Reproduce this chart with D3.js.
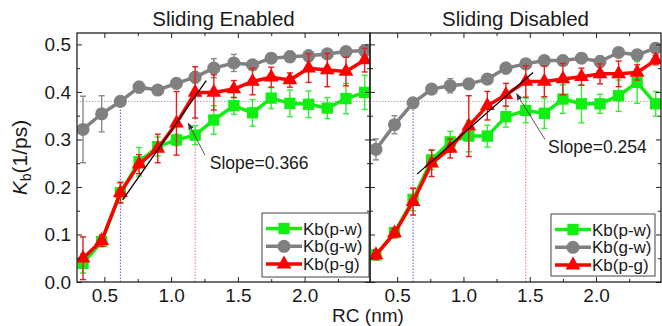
<!DOCTYPE html>
<html>
<head>
<meta charset="utf-8">
<script src="https://cdn.jsdelivr.net/npm/d3@7"></script>
<style>
  body { margin: 0; background: #fff; }
  svg text { font-family: "Liberation Sans", Arial, sans-serif; fill: #1a1a1a; }
</style>
</head>
<body>
<div id="chart"></div>
<script>
// reaction coordinate (nm), shared by both panels
const rc = [0.34, 0.48, 0.62, 0.76, 0.90, 1.04, 1.18, 1.32, 1.47, 1.61, 1.75, 1.89, 2.03, 2.17, 2.31, 2.45];

// Sliding Enabled
const enPW = [0.039, 0.085, 0.188, 0.253, 0.285, 0.299, 0.309, 0.341, 0.371, 0.356, 0.387, 0.376, 0.374, 0.366, 0.386, 0.399];
const enPWErr = [0.02, 0.01, 0.02, 0.03, 0.02, 0.012, 0.02, 0.03, 0.018, 0.028, 0.022, 0.028, 0.028, 0.022, 0.032, 0.036];
const enGW = [0.321, 0.354, 0.380, 0.410, 0.404, 0.418, 0.431, 0.450, 0.461, 0.457, 0.471, 0.474, 0.476, 0.480, 0.485, 0.487];
const enGWErr = [0.07, 0.038, 0.008, 0.012, 0.008, 0.008, 0.012, 0.02, 0.018, 0.008, 0.01, 0.012, 0.012, 0.01, 0.008, 0.012];
const enPG = [0.050, 0.087, 0.188, 0.248, 0.281, 0.334, 0.399, 0.399, 0.406, 0.422, 0.431, 0.425, 0.450, 0.446, 0.443, 0.467];
const enPGErr = [0.045, 0.012, 0.022, 0.02, 0.03, 0.067, 0.054, 0.037, 0.018, 0.028, 0.021, 0.015, 0.03, 0.035, 0.03, 0.025];

// Sliding Disabled
const disPW = [0.057, 0.104, 0.174, 0.257, 0.295, 0.307, 0.307, 0.348, 0.361, 0.355, 0.385, 0.375, 0.375, 0.392, 0.420, 0.375];
const disPWErr = [0.01, 0.01, 0.024, 0.02, 0.022, 0.033, 0.023, 0.022, 0.026, 0.032, 0.03, 0.04, 0.02, 0.033, 0.044, 0.026];
const disGW = [0.279, 0.331, 0.377, 0.406, 0.413, 0.417, 0.427, 0.450, 0.459, 0.466, 0.466, 0.471, 0.464, 0.483, 0.478, 0.492];
const disGWErr = [0.022, 0.019, 0.005, 0.008, 0.015, 0.008, 0.01, 0.012, 0.01, 0.01, 0.008, 0.01, 0.012, 0.01, 0.008, 0.011];
const disPG = [0.057, 0.103, 0.169, 0.250, 0.281, 0.328, 0.371, 0.394, 0.422, 0.422, 0.427, 0.432, 0.438, 0.438, 0.441, 0.467];
const disPGErr = [0.01, 0.01, 0.028, 0.028, 0.02, 0.064, 0.03, 0.024, 0.033, 0.032, 0.033, 0.018, 0.021, 0.027, 0.016, 0.01];

const seriesNames = ["Kb(p-w)", "Kb(g-w)", "Kb(p-g)"];
const seriesColors = ["#11ee11", "#808080", "#ff0000"];
const errColors = ["#33ee33", "#8a8a8a", "#e81c1c"];

const xTicks = [0.5, 1.0, 1.5, 2.0];
const yTicks = [0.0, 0.1, 0.2, 0.3, 0.4, 0.5];

// guide values
const plateauK = 0.38;
const onsetRC = 0.62;
const enEndRC = 1.18, disEndRC = 1.47;
const enSlope = [[0.637, 0.173], [1.263, 0.424]];
const disSlope = [[0.65, 0.227], [1.525, 0.441]];
const enArrow = [[1.254, 0.267], [1.129, 0.334]];
const disArrow = [[1.615, 0.300], [1.401, 0.396]];
const enLabel = ["Slope=0.366", 1.29, 0.238];
const disLabel = ["Slope=0.254", 1.638, 0.272];

////////////////////////////////////////////////////////////////////////////////////

const width = 662, height = 326;
const plotTop = 33, plotBottom = 282;

const svg = d3.select("#chart").append("svg")
  .attr("width", width).attr("height", height)
  .style("display", "block");

svg.append("rect").attr("width", width).attr("height", height).attr("fill", "#fff");

const defs = svg.append("defs");
defs.append("marker")
  .attr("id", "arrow")
  .attr("viewBox", "0 0 10 10")
  .attr("refX", 9).attr("refY", 5)
  .attr("markerWidth", 7).attr("markerHeight", 7)
  .attr("markerUnits", "userSpaceOnUse")
  .attr("orient", "auto")
  .append("path").attr("d", "M0,1 L10,5 L0,9 Z").attr("fill", "#333");

const panels = [
  { title: "Sliding Enabled", left: 77, right: 370, series: [[enPW, enPWErr], [enGW, enGWErr], [enPG, enPGErr]],
    endRC: enEndRC, endK: enPG[6], slope: enSlope, arrow: enArrow, label: enLabel, legend: [262, 213, 107, 64], labels: true },
  { title: "Sliding Disabled", left: 370, right: 661, series: [[disPW, disPWErr], [disGW, disGWErr], [disPG, disPGErr]],
    endRC: disEndRC, endK: disPG[8], slope: disSlope, arrow: disArrow, label: disLabel, legend: [551, 214, 104, 62], labels: false }
];

const y = d3.scaleLinear().domain([0, 0.524]).range([plotBottom, plotTop]);

function symbolFor(i) {
  if (i === 0) return d3.symbol().type(d3.symbolSquare).size(128)();
  if (i === 1) return d3.symbol().type(d3.symbolCircle).size(135)();
  return d3.symbol().type(d3.symbolTriangle).size(95)();
}

panels.forEach((p, pi) => {
  const x = d3.scaleLinear().domain([0.295, 2.49]).range([p.left, p.right]);
  const g = svg.append("g");

  const clipId = "clip" + pi;
  defs.append("clipPath").attr("id", clipId)
    .append("rect").attr("x", p.left).attr("y", plotTop).attr("width", p.right - p.left).attr("height", plotBottom - plotTop);

  const plot = g.append("g").attr("clip-path", `url(#${clipId})`);

  // dotted guides
  plot.append("line")
    .attr("x1", p.left).attr("x2", p.right)
    .attr("y1", y(plateauK)).attr("y2", y(plateauK))
    .attr("stroke", "#aaa").attr("stroke-width", 1).attr("stroke-dasharray", "1.5,1.5");
  plot.append("line")
    .attr("x1", x(onsetRC)).attr("x2", x(onsetRC))
    .attr("y1", y(0)).attr("y2", y(plateauK))
    .attr("stroke", "#5555ee").attr("stroke-width", 1).attr("stroke-dasharray", "1.5,1.5");
  plot.append("line")
    .attr("x1", x(p.endRC)).attr("x2", x(p.endRC))
    .attr("y1", y(0)).attr("y2", y(p.endK))
    .attr("stroke", "#ff6666").attr("stroke-width", 1).attr("stroke-dasharray", "1.5,1.5");

  // series
  p.series.forEach(([vals, errs], si) => {
    const pts = rc.map((r, i) => ({ x: r, y: vals[i], e: errs[i] }));
    const sg = plot.append("g");

    const eb = sg.selectAll("g.eb").data(pts).enter().append("g")
      .attr("stroke", errColors[si]).attr("stroke-width", 1.4);
    eb.append("line")
      .attr("x1", d => x(d.x)).attr("x2", d => x(d.x))
      .attr("y1", d => y(d.y - d.e)).attr("y2", d => y(d.y + d.e));
    eb.append("line")
      .attr("x1", d => x(d.x) - 3).attr("x2", d => x(d.x) + 3)
      .attr("y1", d => y(d.y + d.e)).attr("y2", d => y(d.y + d.e));
    eb.append("line")
      .attr("x1", d => x(d.x) - 3).attr("x2", d => x(d.x) + 3)
      .attr("y1", d => y(d.y - d.e)).attr("y2", d => y(d.y - d.e));

    sg.append("path")
      .datum(pts)
      .attr("fill", "none")
      .attr("stroke", seriesColors[si])
      .attr("stroke-width", 3.5)
      .attr("stroke-linejoin", "round")
      .attr("d", d3.line().x(d => x(d.x)).y(d => y(d.y)));

    sg.selectAll("path.mk").data(pts).enter().append("path")
      .attr("class", "mk")
      .attr("transform", d => `translate(${x(d.x)},${y(d.y)})`)
      .attr("d", symbolFor(si))
      .attr("fill", seriesColors[si]);
  });

  // slope fit line
  plot.append("line")
    .attr("x1", x(p.slope[0][0])).attr("y1", y(p.slope[0][1]))
    .attr("x2", x(p.slope[1][0])).attr("y2", y(p.slope[1][1]))
    .attr("stroke", "#000").attr("stroke-width", 1.3);

  // annotation
  g.append("line")
    .attr("x1", x(p.arrow[0][0])).attr("y1", y(p.arrow[0][1]))
    .attr("x2", x(p.arrow[1][0])).attr("y2", y(p.arrow[1][1]))
    .attr("stroke", "#444").attr("stroke-width", 0.9)
    .attr("marker-end", "url(#arrow)");
  g.append("text")
    .attr("x", x(p.label[1])).attr("y", y(p.label[2]))
    .attr("font-size", 17.5)
    .text(p.label[0]);

  // axes: ticks point inward on all four sides
  const xMinor = d3.range(0.5, 2.5, 0.25).filter(v => !xTicks.some(t => Math.abs(t - v) < 1e-6));
  const yMinor = d3.range(0.05, 0.55, 0.1);

  g.append("g").attr("transform", `translate(0,${plotBottom})`)
    .call(d3.axisBottom(x).tickValues(xTicks).tickFormat(d3.format(".1f")).tickSize(-5).tickPadding(7))
    .call(a => a.select(".domain").remove());
  g.append("g").attr("transform", `translate(0,${plotBottom})`)
    .call(d3.axisBottom(x).tickValues(xMinor).tickFormat("").tickSize(-3))
    .call(a => a.select(".domain").remove());
  g.append("g").attr("transform", `translate(0,${plotTop})`)
    .call(d3.axisTop(x).tickValues(xTicks).tickFormat("").tickSize(-5))
    .call(a => a.select(".domain").remove());
  g.append("g").attr("transform", `translate(0,${plotTop})`)
    .call(d3.axisTop(x).tickValues(xMinor).tickFormat("").tickSize(-3))
    .call(a => a.select(".domain").remove());

  g.append("g").attr("transform", `translate(${p.left},0)`)
    .call(d3.axisLeft(y).tickValues(yTicks).tickFormat(p.labels ? d3.format(".1f") : "").tickSize(-5).tickPadding(6))
    .call(a => a.select(".domain").remove());
  g.append("g").attr("transform", `translate(${p.left},0)`)
    .call(d3.axisLeft(y).tickValues(yMinor).tickFormat("").tickSize(-3))
    .call(a => a.select(".domain").remove());
  g.append("g").attr("transform", `translate(${p.right},0)`)
    .call(d3.axisRight(y).tickValues(yTicks).tickFormat("").tickSize(-5))
    .call(a => a.select(".domain").remove());
  g.append("g").attr("transform", `translate(${p.right},0)`)
    .call(d3.axisRight(y).tickValues(yMinor).tickFormat("").tickSize(-3))
    .call(a => a.select(".domain").remove());

  g.selectAll(".tick line").attr("stroke", "#222").attr("stroke-width", 1);
  g.selectAll(".tick text").attr("font-size", 19).attr("font-family", "Liberation Sans, Arial, sans-serif").attr("fill", "#1a1a1a");

  // frame
  g.append("rect")
    .attr("x", p.left).attr("y", plotTop)
    .attr("width", p.right - p.left).attr("height", plotBottom - plotTop)
    .attr("fill", "none").attr("stroke", "#222").attr("stroke-width", 1.3);

  // title
  g.append("text")
    .attr("x", (p.left + p.right) / 2).attr("y", 26)
    .attr("text-anchor", "middle")
    .attr("font-size", 20.5)
    .text(p.title);

  // legend
  const [lx, ly, lw, lh] = p.legend;
  const lg = g.append("g");
  lg.append("rect")
    .attr("x", lx).attr("y", ly).attr("width", lw).attr("height", lh)
    .attr("fill", "#fff").attr("stroke", "#444").attr("stroke-width", 1);
  seriesNames.forEach((name, si) => {
    const ry = ly + 15.5 + si * 17.8;
    lg.append("line")
      .attr("x1", lx + 4).attr("x2", lx + 40)
      .attr("y1", ry).attr("y2", ry)
      .attr("stroke", seriesColors[si]).attr("stroke-width", 3.5);
    lg.append("path")
      .attr("transform", `translate(${lx + 22},${ry})`)
      .attr("d", symbolFor(si))
      .attr("fill", seriesColors[si]);
    lg.append("text")
      .attr("x", lx + 41).attr("y", ry + 6)
      .attr("font-size", 17)
      .text(name);
  });
});

// y-axis title
const yTitle = svg.append("text")
  .attr("transform", `translate(27,${(plotTop + plotBottom) / 2}) rotate(-90)`)
  .attr("text-anchor", "middle")
  .attr("font-size", 21);
yTitle.append("tspan").attr("font-style", "italic").text("K");
yTitle.append("tspan").attr("font-size", 14).attr("dy", 4).text("b");
yTitle.append("tspan").attr("dy", -4).text("(1/ps)");

// x-axis title
svg.append("text")
  .attr("x", 368).attr("y", 322)
  .attr("text-anchor", "middle")
  .attr("font-size", 19)
  .text("RC (nm)");
</script>
</body>
</html>
